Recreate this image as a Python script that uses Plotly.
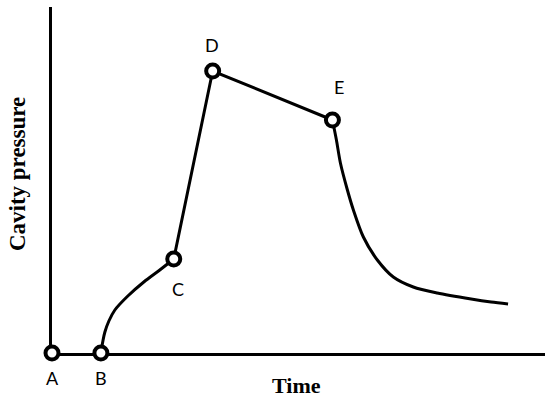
import plotly.graph_objects as go

# Key points (time, cavity pressure) in arbitrary units
point_labels = ["A", "B", "C", "D", "E"]
point_t = [0, 49, 122, 161, 281]
point_p = [0, 0, 94, 282, 233]

# Filling phase curve B -> C
rise_t = [49, 51, 53, 57, 63, 76, 92, 108, 122]
rise_p = [0, 12, 21, 32, 43, 57, 71, 83, 94]

# Compression / holding C -> D -> E
hold_t = [122, 161, 281]
hold_p = [94, 282, 233]

# Cooling decay E -> end
decay_t = [281, 285, 289, 296, 302, 312, 326, 342, 362, 386, 420, 440, 457]
decay_p = [233, 213, 190, 163, 143, 116, 93, 76, 66, 60, 54, 51, 49]

# label offsets in px (dx, dy)
label_offsets = {"A": (0, -25), "B": (0, -25), "C": (4, -30), "D": (-1, 26), "E": (7, 33)}

line_style = dict(color="black", width=3)

fig = go.Figure()
fig.add_trace(go.Scatter(x=rise_t, y=rise_p, mode="lines", line=dict(**line_style, shape="spline", smoothing=1.0),
                         hoverinfo="skip", cliponaxis=False))
fig.add_trace(go.Scatter(x=hold_t, y=hold_p, mode="lines", line=line_style,
                         hoverinfo="skip", cliponaxis=False))
fig.add_trace(go.Scatter(x=decay_t, y=decay_p, mode="lines", line=dict(**line_style, shape="spline", smoothing=0.8),
                         hoverinfo="skip", cliponaxis=False))
fig.add_trace(go.Scatter(x=point_t, y=point_p, mode="markers",
                         marker=dict(size=13, color="white", line=dict(color="black", width=4)),
                         cliponaxis=False, text=point_labels, hoverinfo="text"))

for lab, t, p in zip(point_labels, point_t, point_p):
    dx, dy = label_offsets[lab]
    fig.add_annotation(x=t, y=p, text=lab, showarrow=False, xshift=dx, yshift=dy,
                       font=dict(family="Lato", size=18, color="black"))

title_font = dict(family="Liberation Serif", size=23, color="black")
fig.add_annotation(xref="paper", yref="paper", x=0.496, y=0, yshift=-32, yanchor="middle",
                   text="<b>Time</b>", showarrow=False, font=dict(family="Liberation Serif", size=22, color="black"))
fig.add_annotation(xref="paper", yref="paper", x=0, xshift=-35, xanchor="center", y=0.517,
                   text="<b>Cavity pressure</b>", textangle=-90, showarrow=False, font=title_font)

fig.update_layout(
    width=550, height=398,
    margin=dict(l=52, r=5, t=7, b=45),
    paper_bgcolor="white", plot_bgcolor="white",
    showlegend=False,
    xaxis=dict(range=[0, 494], showline=True, linecolor="black", linewidth=3,
               showgrid=False, zeroline=False, showticklabels=False, ticks="",
               layer="below traces", automargin=False),
    yaxis=dict(range=[0, 346], showline=True, linecolor="black", linewidth=3,
               showgrid=False, zeroline=False, showticklabels=False, ticks="",
               layer="below traces", automargin=False),
)

fig.write_html("out.html", post_script="document.body.style.margin='0';",
               config={"displayModeBar": False})
